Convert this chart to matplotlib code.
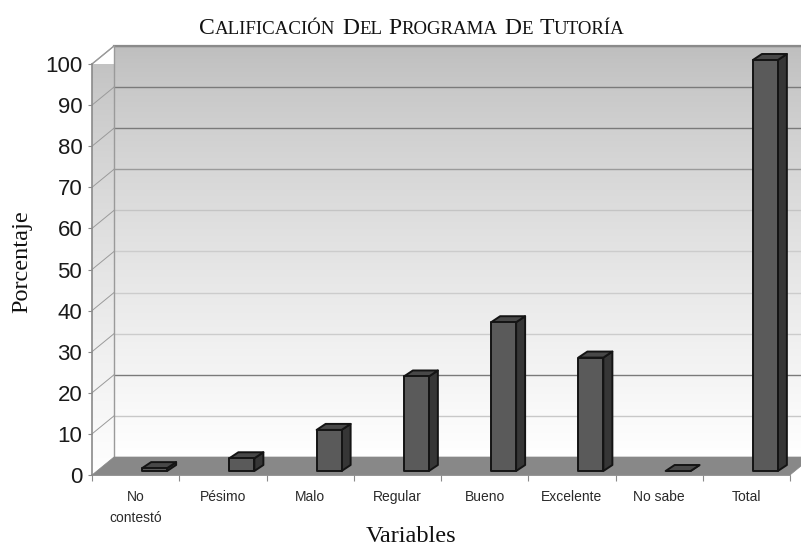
import numpy as np
import matplotlib
matplotlib.use("Agg")
import matplotlib.pyplot as plt
from matplotlib.patches import Polygon, Rectangle

# ---- data ----
categories = ["No\ncontestó", "Pésimo", "Malo", "Regular", "Bueno", "Excelente", "No sabe", "Total"]
values = [0.7, 3.1, 10.0, 23.0, 36.2, 27.6, 0.0, 100.0]
yticks = [0, 10, 20, 30, 40, 50, 60, 70, 80, 90, 100]
title_words = ["CALIFICACIÓN", "DEL", "PROGRAMA", "DE", "TUTORÍA"]

W, H = 801, 550
fig = plt.figure(figsize=(W / 100, H / 100), dpi=100)
fig.patch.set_facecolor("white")

# front plane of the plot in pixels
x0p, x1p, y0p, y1p = 92, 790, 475, 64
ax = fig.add_axes([x0p / W, (H - y0p) / H, (x1p - x0p) / W, (y0p - y1p) / H])
n = len(categories)
ax.set_xlim(0, n)
ax.set_ylim(0, 100)
ax.set_facecolor("none")

pxx = (x1p - x0p) / n          # pixels per x unit
pxy = (y0p - y1p) / 100.0      # pixels per y unit
# depth of floor / walls (in data units)
ddx, ddy = 22 / pxx, 18 / pxy
# bar geometry
boff, bw = 19 / pxx, 25 / pxx
bdx, bdy = 9 / pxx, 6 / pxy
by0 = 4 / pxy

# ---- back wall gradient (gray at top -> white at bottom) ----
f = np.linspace(0, 1, 256).reshape(-1, 1)
gcol = np.clip(190 / 255 + (65 / 255) * f ** 0.8, 0, 1)
gimg = np.dstack([gcol, gcol, gcol])
ax.imshow(gimg, extent=(ddx, n + ddx, ddy, 100 + ddy), origin="upper",
          aspect="auto", clip_on=False, zorder=0)
# left wall gradient, clipped to parallelogram
lw_poly = Polygon([(0, 0), (0, 100), (ddx, 100 + ddy), (ddx, ddy)], closed=True,
                  transform=ax.transData, facecolor="none", edgecolor="none")
ax.add_patch(lw_poly)
im2 = ax.imshow(gimg, extent=(0, ddx, 0, 100 + ddy), origin="upper",
                aspect="auto", clip_on=True, zorder=0)
im2.set_clip_path(lw_poly)

# gridlines
gcolors = ["#b8b8b8", "#c8c8c8", "#7a7a7a", "#cccccc", "#cccccc", "#cccccc",
           "#c4c4c4", "#9a9a9a", "#7a7a7a", "#7a7a7a", "#8a8a8a"]
for v, c in zip(yticks, gcolors):
    if v == 0:
        continue
    ax.plot([ddx, n + ddx], [v + ddy, v + ddy], color=c, lw=1.0, zorder=1, clip_on=False)
    ax.plot([0, ddx], [v, v + ddy], color="#9a9a9a", lw=0.7, zorder=1, clip_on=False)
ax.plot([ddx, n + ddx], [100 + ddy, 100 + ddy], color="#8a8a8a", lw=1.6, zorder=1, clip_on=False)
ax.plot([ddx, ddx], [ddy, 100 + ddy], color="#9a9a9a", lw=1.0, zorder=1, clip_on=False)
ax.plot([0, ddx], [100, 100 + ddy], color="#9a9a9a", lw=1.0, zorder=1, clip_on=False)

# floor
floor = Polygon([(0, 0), (n, 0), (n + ddx, ddy), (ddx, ddy)], closed=True,
                facecolor="#888888", edgecolor="#888888", lw=0.5, zorder=2, clip_on=False)
ax.add_patch(floor)

# bars
for i, v in enumerate(values):
    xa = i + 0.5 + boff - bw / 2
    xb = xa + bw
    ya, yb = by0, by0 + v
    kw = dict(edgecolor="#141414", lw=1.4, joinstyle="round", clip_on=False, zorder=3)
    side = Polygon([(xb, ya), (xb + bdx, ya + bdy), (xb + bdx, yb + bdy), (xb, yb)],
                   closed=True, facecolor="#363636", **kw)
    top = Polygon([(xa, yb), (xb, yb), (xb + bdx, yb + bdy), (xa + bdx, yb + bdy)],
                  closed=True, facecolor="#484848", **kw)
    front = Rectangle((xa, ya), bw, v, facecolor="#5a5a5a", **kw)
    ax.add_patch(side)
    ax.add_patch(top)
    ax.add_patch(front)

# axes styling
for s in ["top", "right"]:
    ax.spines[s].set_visible(False)
for s in ["left", "bottom"]:
    ax.spines[s].set_color("#8a8a8a")
    ax.spines[s].set_linewidth(1.2)
    ax.spines[s].set_zorder(4)

ax.set_yticks(yticks)
ax.set_yticklabels([str(t) for t in yticks], fontsize=16, family="Liberation Sans", color="#1a1a1a")
ax.tick_params(axis="y", length=3, width=0.8, color="#8a8a8a", pad=4)

ax.set_xticks(np.arange(n) + 0.5)
ax.set_xticklabels(categories, fontsize=10, family="Liberation Sans", color="#2a2a2a",
                   linespacing=1.6)
ax.set_xticks(np.arange(n + 1), minor=True)
ax.tick_params(axis="x", which="major", length=0, pad=11)
ax.tick_params(axis="x", which="minor", length=4.5, width=0.8, color="#8a8a8a")

ax.set_xlabel("Variables", fontsize=17.5, family="Liberation Serif", color="#111111")
ax.xaxis.set_label_coords((411 - x0p) / (x1p - x0p), (y0p - 537) / (y0p - y1p))
ax.xaxis.label.set_va("center")
ax.set_ylabel("Porcentaje", fontsize=17.5, family="Liberation Serif", color="#111111")
ax.yaxis.set_label_coords((22 - x0p) / (x1p - x0p), (y0p - 262) / (y0p - y1p))
ax.yaxis.label.set_va("center")

# ---- small-caps title ----
big, small = 17.0, 13.6
pieces = []
for wi, w in enumerate(title_words):
    pieces.append((w[0], big))
    pieces.append((w[1:], small))
    if wi < len(title_words) - 1:
        pieces.append((" ", small))
fig.canvas.draw()
r = fig.canvas.get_renderer()
texts = []
for s, fs in pieces:
    t = fig.text(0, (H - 34) / H, s, fontsize=fs, family="Liberation Serif",
                 color="#111111", va="baseline", ha="left")
    texts.append(t)
fig.canvas.draw()
widths = []
for t in texts:
    s = t.get_text()
    if s == " ":
        widths.append(0.35 * t.get_fontsize() * 100 / 72)
    else:
        widths.append(t.get_window_extent(r).width)
total = sum(widths)
xstart = 412 - total / 2
for t, wdt in zip(texts, widths):
    t.set_x(xstart / W)
    xstart += wdt

fig.savefig("out.png", dpi=100, facecolor="white")
